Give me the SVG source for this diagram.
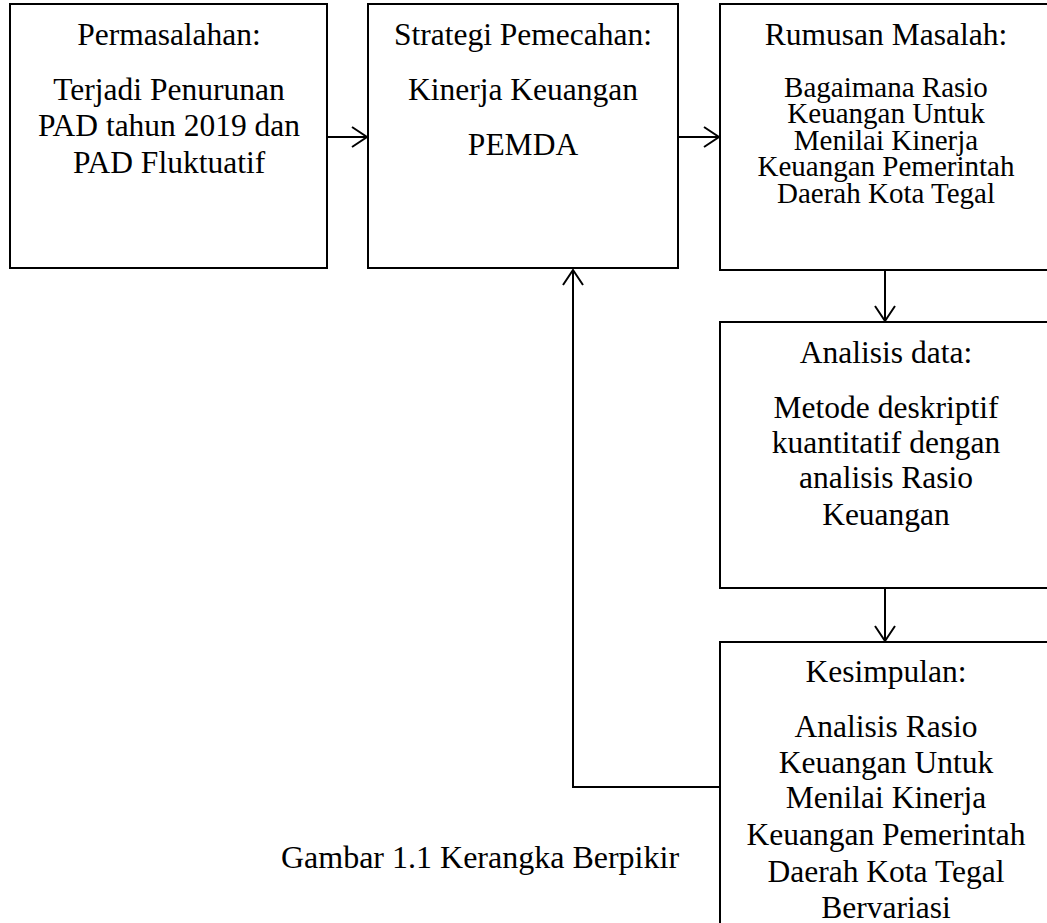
<svg xmlns="http://www.w3.org/2000/svg" width="1047" height="923" viewBox="0 0 1047 923">
<style>
.box{fill:#fff;stroke:#000;stroke-width:2}
.t{font-family:"Liberation Serif","Times New Roman",serif;font-size:31.5px;fill:#000;text-anchor:middle}
.s{font-size:29px}
.cap{font-size:32px}
.c{fill:none;stroke:#000;stroke-width:2}
</style>
<rect width="1047" height="923" fill="#fff"/>
<g id="connectors">
<path class="c" d="M327,137 H367 M352,127 L367,137 L352,147"/>
<path class="c" d="M678,137 H719 M704,127 L719,137 L704,147"/>
<path class="c" d="M885,270 V321 M875,306 L885,321 L895,306"/>
<path class="c" d="M885,588 V641 M875,626 L885,641 L895,626"/>
<path class="c" d="M720,787 H573 V270 M563,285 L573,270 L583,285"/>
</g>
<g id="permasalahan">
<rect class="box" x="10" y="4" width="317" height="264"/>
<text class="t" x="169" y="45">Permasalahan:</text>
<text class="t" x="169" y="100">Terjadi Penurunan</text>
<text class="t" x="169" y="136">PAD tahun 2019 dan</text>
<text class="t" x="169" y="173">PAD Fluktuatif</text>
</g>
<g id="strategi">
<rect class="box" x="368" y="4" width="310" height="264"/>
<text class="t" x="523" y="45">Strategi Pemecahan:</text>
<text class="t" x="523" y="100">Kinerja Keuangan</text>
<text class="t" x="523" y="155">PEMDA</text>
</g>
<g id="rumusan">
<rect class="box" x="720" y="4" width="332" height="266"/>
<text class="t" x="886" y="45">Rumusan Masalah:</text>
<text class="t s" x="886" y="97">Bagaimana Rasio</text>
<text class="t s" x="886" y="123">Keuangan Untuk</text>
<text class="t s" x="886" y="150">Menilai Kinerja</text>
<text class="t s" x="886" y="176">Keuangan Pemerintah</text>
<text class="t s" x="886" y="203">Daerah Kota Tegal</text>
</g>
<g id="analisis">
<rect class="box" x="720" y="322" width="332" height="266"/>
<text class="t" x="886" y="363">Analisis data:</text>
<text class="t" x="886" y="418">Metode deskriptif</text>
<text class="t" x="886" y="453">kuantitatif dengan</text>
<text class="t" x="886" y="488">analisis Rasio</text>
<text class="t" x="886" y="525">Keuangan</text>
</g>
<g id="kesimpulan">
<rect class="box" x="720" y="642" width="332" height="300"/>
<text class="t" x="886" y="682">Kesimpulan:</text>
<text class="t" x="886" y="737">Analisis Rasio</text>
<text class="t" x="886" y="773">Keuangan Untuk</text>
<text class="t" x="886" y="808">Menilai Kinerja</text>
<text class="t" x="886" y="845">Keuangan Pemerintah</text>
<text class="t" x="886" y="882">Daerah Kota Tegal</text>
<text class="t" x="886" y="918">Bervariasi</text>
</g>
<g id="caption">
<text class="t cap" x="480" y="868">Gambar 1.1 Kerangka Berpikir</text>
</g>
</svg>
